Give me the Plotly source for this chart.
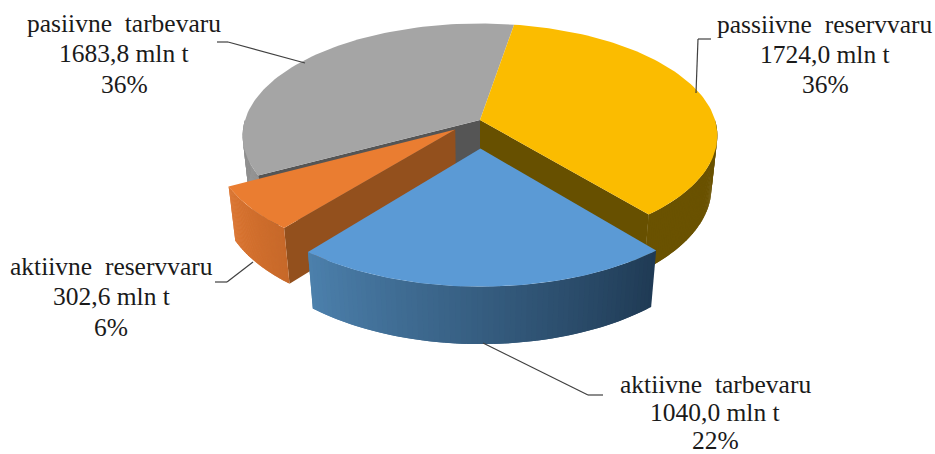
import math
import plotly.graph_objects as go

categories = ["passiivne reservvaru", "aktiivne tarbevaru", "aktiivne reservvaru", "pasiivne tarbevaru"]
values = [1724.0, 1040.0, 302.6, 1683.8]
value_labels = ["1724,0 mln t", "1040,0 mln t", "302,6 mln t", "1683,8 mln t"]
percent_labels = ["36%", "22%", "6%", "36%"]

# styling / projection
START = 9.5
EXPLODE = [0.0, 0.25, 0.135, 0.0]
TOP = ["#FBBC00", "#5B9AD5", "#EA7D31", "#A5A5A5"]
WALL_L = ["#6A5200", "#4C80AC", "#DA7430", "#8F8F8F"]
WALL_R = ["#6A5200", "#1F3A54", "#C7692A", "#8F8F8F"]
RADIAL = ["#675000", None, "#93501D", "#555555"]
CX, CY, A, B, K, M, D = 480.0, 120.0, 235.0, 110.0, 0.14, 0.025, 53.0


def project(u, v, z):
    w = 1 + K * v + M * z
    return CX + A * u / w, CY + (-B * v + D * z) / w


def rim(t, ox, oy, z):
    r = math.radians(t)
    return project(math.sin(r) + ox, math.cos(r) + oy, z)


def hexmix(c1, c2, f):
    a = [int(c1[i:i + 2], 16) for i in (1, 3, 5)]
    b = [int(c2[i:i + 2], 16) for i in (1, 3, 5)]
    return "rgb(%d,%d,%d)" % tuple(round(p + (q - p) * f) for p, q in zip(a, b))


def poly(fig, pts, color):
    xs = [p[0] for p in pts] + [pts[0][0]]
    ys = [p[1] for p in pts] + [pts[0][1]]
    fig.add_trace(go.Scatter(x=xs, y=ys, mode="lines", fill="toself", fillcolor=color,
                             line=dict(width=0), hoverinfo="skip", showlegend=False))


total = sum(values)
slices = []
angle = START
for i, val in enumerate(values):
    sweep = 360 * val / total
    mid = math.radians(angle + sweep / 2)
    slices.append((angle, angle + sweep, EXPLODE[i] * math.sin(mid), EXPLODE[i] * math.cos(mid)))
    angle += sweep

fig = go.Figure()


def draw(i, wall_from, wall_to, radial_t):
    t0, t1, ox, oy = slices[i]
    if radial_t is not None:
        poly(fig, [project(ox, oy, 0), rim(radial_t, ox, oy, 0), rim(radial_t, ox, oy, 1), project(ox, oy, 1)], RADIAL[i])
    n = 70
    step = (wall_to - wall_from) / n
    for j in range(n):
        # each strip runs on under the next one, so that no seams show
        ts = [wall_from + step * j + step * 2 * q / 4 for q in range(5)]
        ts = [min(t, wall_to) for t in ts]
        pts = [rim(t, ox, oy, 0) for t in ts] + [rim(t, ox, oy, 1) for t in reversed(ts)]
        poly(fig, pts, hexmix(WALL_L[i], WALL_R[i], 1 - (j + 0.5) / n))
    top = [project(ox, oy, 0)] + [rim(t0 + (t1 - t0) * j / 80, ox, oy, 0) for j in range(81)]
    poly(fig, top, TOP[i])


# painter's order: back to front
draw(3, slices[3][0], 270, slices[3][0])
draw(0, 90, slices[0][1], slices[0][1])
draw(2, slices[2][0], slices[2][1], slices[2][0])
draw(1, slices[1][0], slices[1][1], None)

leaders = [
    [(711, 39), (698, 39), (696, 93)],
    [(483, 343), (588, 395), (603, 395)],
    [(215, 282), (227, 282), (253, 262)],
    [(217, 42), (228, 42), (305, 63)],
]
shapes = []
for path in leaders:
    for p, q in zip(path, path[1:]):
        shapes.append(dict(type="line", xref="x", yref="y", x0=p[0], y0=p[1], x1=q[0], y1=q[1],
                           line=dict(color="#404040", width=1.2)))

label_pos = [(825, [24, 54, 84]), (715, [384, 412, 440]), (111, [266, 296, 327]), (124, [23, 53, 84])]
annotations = []
for i, (x, ys) in enumerate(label_pos):
    lines = [categories[i].replace(" ", "\u00a0\u00a0"), value_labels[i], percent_labels[i]]
    for text, y in zip(lines, ys):
        annotations.append(dict(x=x, y=y, xref="x", yref="y", text=text, showarrow=False,
                                xanchor="center", yanchor="middle", borderpad=0,
                                font=dict(family="Liberation Serif", size=25.5, color="#1a1a1a")))

fig.update_layout(
    width=935, height=454, margin=dict(l=0, r=0, t=0, b=0),
    paper_bgcolor="white", plot_bgcolor="white", showlegend=False,
    xaxis=dict(range=[0, 935], visible=False, fixedrange=True),
    yaxis=dict(range=[454, 0], visible=False, fixedrange=True),
    shapes=shapes, annotations=annotations,
)
fig.write_html("out.html", config={"displayModeBar": False},
               post_script="document.body.style.margin='0';document.body.style.overflow='hidden';")
